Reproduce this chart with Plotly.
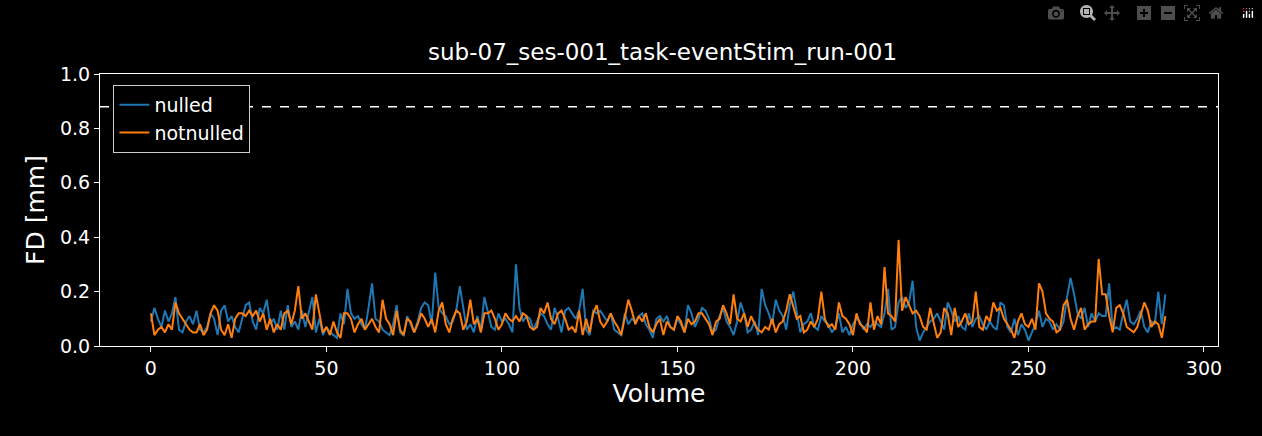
import plotly.graph_objects as go

nulled = [
0.09,0.14,0.10,0.07,0.13,0.09,0.12,0.18,0.06,0.05,
0.09,0.11,0.08,0.13,0.06,0.05,0.07,0.12,0.10,0.04,
0.13,0.15,0.09,0.11,0.07,0.05,0.10,0.15,0.16,0.09,
0.06,0.14,0.12,0.17,0.08,0.10,0.06,0.13,0.06,0.15,
0.07,0.09,0.06,0.13,0.07,0.12,0.18,0.05,0.10,0.04,
0.07,0.05,0.04,0.03,0.12,0.08,0.21,0.12,0.10,0.11,
0.08,0.06,0.14,0.23,0.10,0.09,0.06,0.05,0.04,0.08,
0.15,0.05,0.04,0.11,0.08,0.05,0.09,0.14,0.16,0.15,
0.08,0.27,0.14,0.12,0.11,0.08,0.09,0.13,0.22,0.14,
0.06,0.08,0.05,0.11,0.06,0.18,0.12,0.07,0.06,0.12,
0.09,0.10,0.08,0.05,0.30,0.14,0.09,0.11,0.10,0.06,
0.09,0.12,0.11,0.08,0.06,0.14,0.10,0.05,0.13,0.14,
0.12,0.10,0.13,0.21,0.06,0.04,0.13,0.12,0.13,0.11,
0.09,0.12,0.06,0.05,0.04,0.12,0.08,0.10,0.09,0.11,
0.12,0.08,0.06,0.03,0.10,0.11,0.09,0.11,0.07,0.06,
0.10,0.08,0.05,0.15,0.12,0.07,0.10,0.14,0.13,0.10,
0.05,0.06,0.11,0.14,0.09,0.07,0.04,0.09,0.16,0.12,
0.05,0.06,0.09,0.04,0.21,0.15,0.12,0.08,0.17,0.13,
0.11,0.06,0.15,0.20,0.12,0.05,0.08,0.09,0.12,0.07,
0.06,0.11,0.09,0.08,0.05,0.07,0.12,0.05,0.07,0.04,
0.08,0.10,0.09,0.06,0.08,0.07,0.09,0.08,0.07,0.12,
0.21,0.06,0.07,0.16,0.18,0.14,0.16,0.24,0.07,0.02,
0.05,0.07,0.09,0.10,0.12,0.09,0.06,0.16,0.13,0.09,
0.11,0.07,0.06,0.12,0.07,0.10,0.11,0.08,0.06,0.09,
0.07,0.06,0.16,0.15,0.07,0.05,0.10,0.04,0.08,0.06,
0.02,0.05,0.08,0.13,0.07,0.10,0.09,0.06,0.08,0.06,
0.09,0.18,0.25,0.19,0.12,0.10,0.14,0.07,0.12,0.09,
0.12,0.11,0.11,0.23,0.06,0.07,0.06,0.12,0.17,0.09,
0.08,0.10,0.13,0.07,0.05,0.09,0.08,0.20,0.08,0.19]

notnulled = [
0.12,0.04,0.06,0.07,0.05,0.08,0.06,0.16,0.12,0.10,
0.08,0.06,0.05,0.05,0.08,0.04,0.06,0.12,0.15,0.13,
0.06,0.04,0.08,0.03,0.10,0.12,0.12,0.11,0.13,0.11,
0.13,0.09,0.12,0.06,0.10,0.05,0.08,0.06,0.12,0.13,
0.08,0.13,0.22,0.10,0.12,0.09,0.06,0.19,0.12,0.05,
0.07,0.04,0.09,0.05,0.03,0.12,0.12,0.10,0.05,0.08,
0.10,0.06,0.08,0.10,0.07,0.05,0.17,0.10,0.08,0.04,
0.13,0.06,0.04,0.10,0.09,0.05,0.08,0.12,0.10,0.07,
0.10,0.05,0.13,0.16,0.08,0.05,0.10,0.13,0.12,0.06,
0.09,0.17,0.08,0.10,0.05,0.12,0.12,0.13,0.10,0.06,
0.08,0.12,0.10,0.09,0.11,0.09,0.12,0.11,0.07,0.06,
0.07,0.14,0.12,0.16,0.10,0.08,0.12,0.13,0.10,0.06,
0.07,0.05,0.13,0.04,0.10,0.05,0.12,0.15,0.09,0.07,
0.09,0.12,0.09,0.07,0.04,0.10,0.17,0.13,0.08,0.11,
0.09,0.12,0.07,0.05,0.08,0.10,0.04,0.09,0.07,0.06,
0.11,0.09,0.05,0.10,0.08,0.09,0.12,0.12,0.10,0.08,
0.04,0.09,0.10,0.15,0.12,0.08,0.19,0.10,0.09,0.12,
0.07,0.11,0.08,0.06,0.05,0.07,0.06,0.10,0.05,0.08,
0.09,0.13,0.19,0.14,0.10,0.11,0.05,0.06,0.09,0.07,
0.10,0.20,0.10,0.07,0.08,0.06,0.16,0.11,0.10,0.08,
0.04,0.12,0.08,0.07,0.05,0.16,0.06,0.11,0.08,0.29,
0.12,0.11,0.09,0.39,0.13,0.18,0.15,0.12,0.13,0.11,
0.07,0.06,0.14,0.08,0.03,0.05,0.14,0.12,0.04,0.14,
0.07,0.09,0.12,0.08,0.09,0.20,0.07,0.06,0.11,0.09,
0.16,0.13,0.14,0.10,0.08,0.06,0.03,0.09,0.12,0.08,
0.07,0.10,0.06,0.23,0.20,0.12,0.10,0.09,0.05,0.06,
0.15,0.17,0.10,0.06,0.11,0.14,0.06,0.08,0.09,0.09,
0.32,0.19,0.19,0.11,0.05,0.14,0.15,0.12,0.07,0.06,
0.05,0.07,0.12,0.16,0.13,0.07,0.09,0.08,0.03,0.11]

volumes = list(range(len(nulled)))
threshold = 0.88
title = "sub-07_ses-001_task-eventStim_run-001"

fig = go.Figure()
fig.add_trace(go.Scatter(x=volumes, y=nulled, mode="lines", name="nulled",
                         line=dict(color="#1f77b4", width=2)))
fig.add_trace(go.Scatter(x=volumes, y=notnulled, mode="lines", name="notnulled",
                         line=dict(color="#ff7f0e", width=2)))
fig.add_hline(y=threshold, line=dict(color="white", dash="dash", width=1.5))

axis = dict(showgrid=False, zeroline=False, showline=True, mirror=True,
            linecolor="white", linewidth=1, ticks="outside", tickcolor="white",
            ticklen=5, tickfont=dict(size=19, color="white"))
fig.update_layout(
    width=1262, height=436, paper_bgcolor="black", plot_bgcolor="black",
    font=dict(family="DejaVu Sans", color="white"),
    margin=dict(l=100, r=44, t=74, b=90),
    title=dict(text=title, x=0.525, xanchor="center", y=0.9, font=dict(size=23)),
    xaxis=dict(axis, range=[-14.5, 304], tickvals=[0, 50, 100, 150, 200, 250, 300],
               title=dict(text="Volume", font=dict(size=25), standoff=4)),
    yaxis=dict(axis, range=[0, 1.0], tickvals=[0, 0.2, 0.4, 0.6, 0.8, 1.0],
               tickformat=".1f", title=dict(text="FD [mm]", font=dict(size=25), standoff=8)),
    legend=dict(x=0.012, y=0.96, xanchor="left", yanchor="top", bgcolor="black",
                bordercolor="#cccccc", borderwidth=1, font=dict(size=19)),
    showlegend=True,
)
fig.write_html("out.html",
               post_script="document.body.style.margin='0';document.body.style.background='black';")
